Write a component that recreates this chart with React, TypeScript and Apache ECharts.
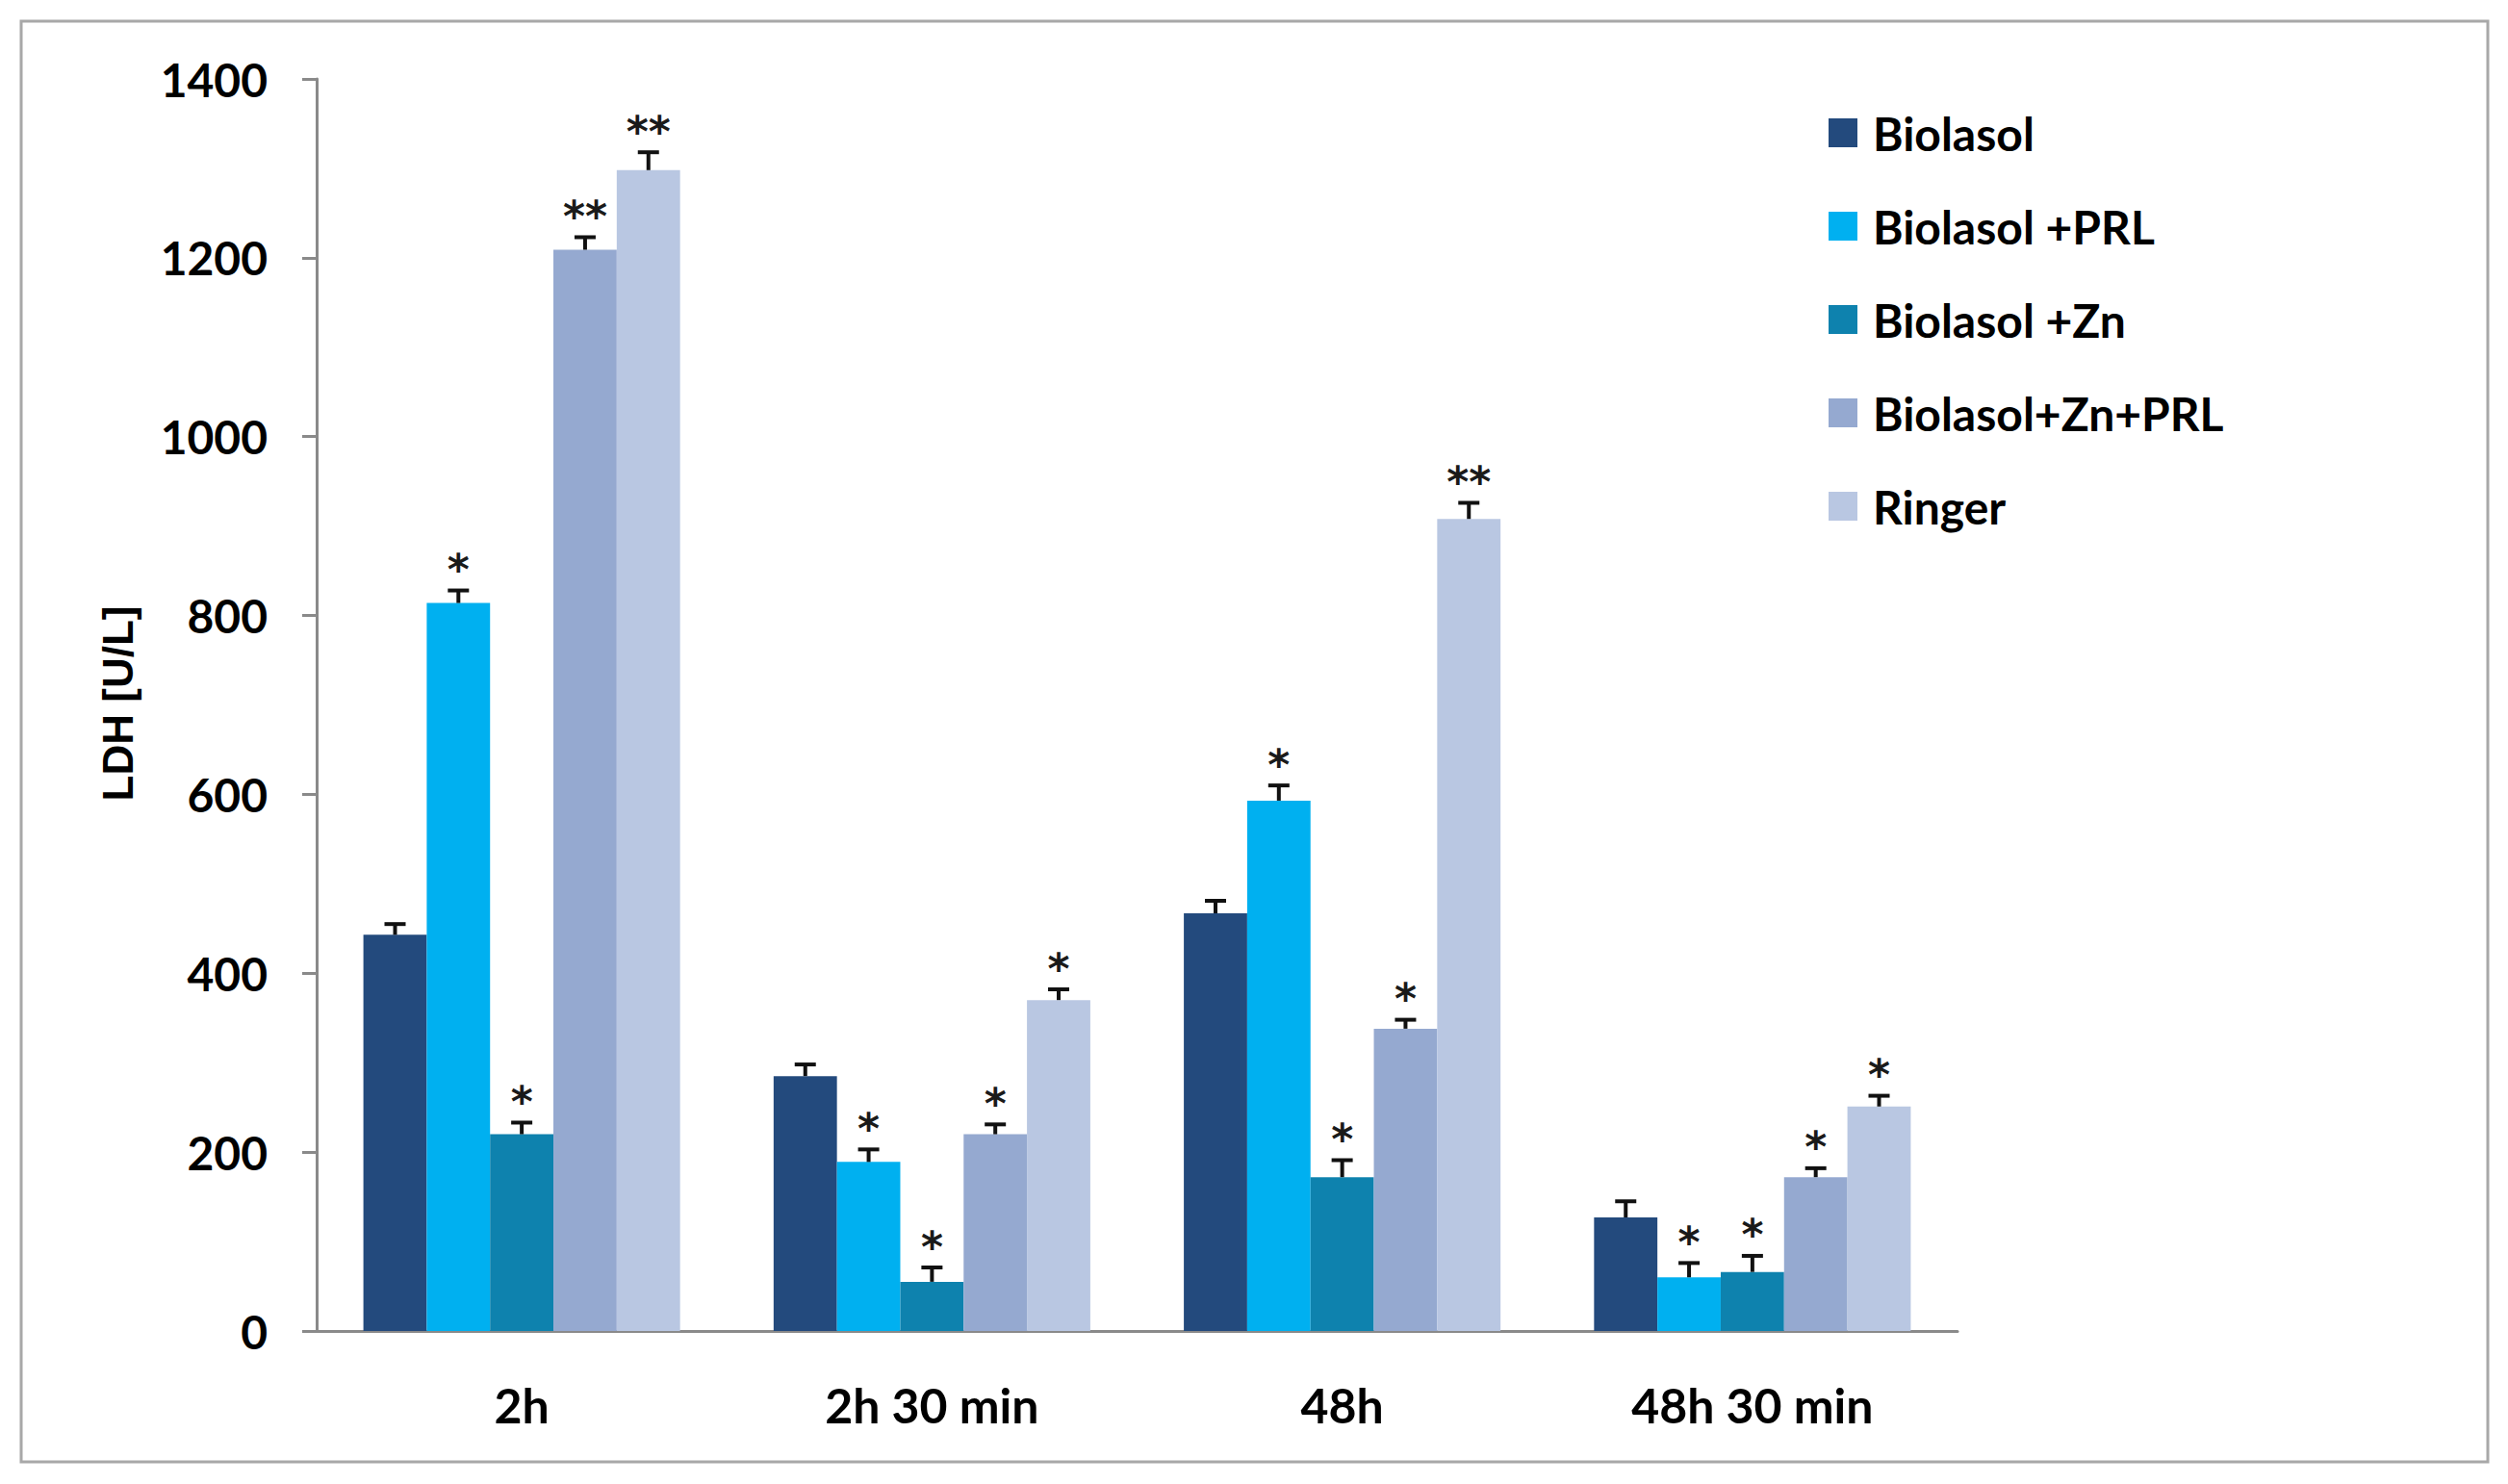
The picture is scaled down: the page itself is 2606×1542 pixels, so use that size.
import React, { useEffect, useRef } from "react";
import * as echarts from "echarts";

const categories = ["2h", "2h 30 min", "48h", "48h 30 min"];
const seriesNames = ["Biolasol", "Biolasol +PRL", "Biolasol +Zn", "Biolasol+Zn+PRL", "Ringer"];
const colors = ["#234a7d", "#00b0f0", "#0e82ae", "#95a9d0", "#b9c7e2"];

const biolasol = [443, 285, 467, 127];
const biolasolPrl = [814, 189, 593, 60];
const biolasolZn = [220, 55, 172, 66];
const biolasolZnPrl = [1209, 220, 338, 172];
const ringer = [1298, 370, 908, 251];

const errBiolasol = [12, 13, 14, 18];
const errPrl = [14, 14, 17, 16];
const errZn = [13, 16, 19, 18];
const errZnPrl = [14, 11, 10, 10];
const errRinger = [20, 12, 18, 12];

const markBiolasol = ["", "", "", ""];
const markPrl = ["*", "*", "*", "*"];
const markZn = ["*", "*", "*", "*"];
const markZnPrl = ["**", "*", "*", "*"];
const markRinger = ["**", "*", "**", "*"];

const yTicks = [0, 200, 400, 600, 800, 1000, 1200, 1400];

const values = [biolasol, biolasolPrl, biolasolZn, biolasolZnPrl, ringer];
const errors = [errBiolasol, errPrl, errZn, errZnPrl, errRinger];
const marks = [markBiolasol, markPrl, markZn, markZnPrl, markRinger];

const GAP = 0.228;

export default function App() {
  const ref = useRef<HTMLDivElement>(null);
  useEffect(() => {
    document.body.style.margin = "0";
    if (!ref.current) return;
    const chart = echarts.init(ref.current, null, { renderer: "svg" });
    const n = seriesNames.length;
    const barSeries = seriesNames.map((name, k) => ({
      name,
      type: "bar",
      data: values[k],
      barGap: "0%",
      barCategoryGap: GAP * 100 + "%",
      itemStyle: { color: colors[k] },
      z: 2,
    }));
    const errSeries = seriesNames.map((name, k) => ({
      name: name + " error",
      type: "custom",
      z: 5,
      data: values[k].map((v, i) => [i, v, errors[k][i]]),
      encode: { x: 0, y: 1 },
      renderItem: (params: any, api: any) => {
        const i = api.value(0);
        const v = api.value(1);
        const e = api.value(2);
        const band = api.size([1, 0])[0];
        const bw = (band * (1 - GAP)) / n;
        const p0 = api.coord([i, v]);
        const p1 = api.coord([i, v + e]);
        const x = p0[0] + (k - (n - 1) / 2) * bw;
        const mark = marks[k][params.dataIndex];
        const children: any[] = [
          { type: "line", shape: { x1: x, y1: p0[1], x2: x, y2: p1[1] }, style: { stroke: "#111", lineWidth: 4 } },
          { type: "line", shape: { x1: x - 11, y1: p1[1], x2: x + 11, y2: p1[1] }, style: { stroke: "#111", lineWidth: 4 } },
        ];
        if (mark) {
          children.push({
            type: "text",
            x: x,
            y: p1[1] - 22,
            style: {
              text: mark,
              fill: "#1a1a1a",
              font: "bold 44px 'DejaVu Sans'",
              align: "center",
              verticalAlign: "middle",
            },
          });
        }
        return { type: "group", children };
      },
    }));
    chart.setOption({
      animation: false,
      backgroundColor: "#ffffff",
      grid: { left: 329, top: 82, width: 1705, height: 1301, containLabel: false },
      legend: {
        data: seriesNames,
        orient: "vertical",
        left: 1895,
        top: 109,
        itemWidth: 30,
        itemHeight: 30,
        itemGap: 49,
        icon: "rect",
        textStyle: { fontFamily: "Lato", fontWeight: "bold", fontSize: 48, color: "#000", lineHeight: 48, padding: [0, 0, 0, 11] },
        selectedMode: false,
      },
      xAxis: {
        type: "category",
        data: categories,
        axisLine: { lineStyle: { color: "#8a8a8a", width: 3 } },
        axisTick: { length: 20, lineStyle: { color: "#8a8a8a", width: 3 } },
        axisLabel: { fontFamily: "Lato", fontWeight: "bold", fontSize: 50, color: "#000", margin: 52 },
      },
      yAxis: {
        type: "value",
        min: yTicks[0],
        max: yTicks[yTicks.length - 1],
        interval: yTicks[1] - yTicks[0],
        splitLine: { show: false },
        axisLine: { show: true, lineStyle: { color: "#8a8a8a", width: 3 } },
        axisTick: { show: true, length: 15, lineStyle: { color: "#8a8a8a", width: 3 } },
        axisLabel: {
          fontFamily: "Lato",
          fontWeight: "bold",
          fontSize: 48,
          color: "#000",
          margin: 51,
          formatter: (v: number) => String(v),
        },
      },
      graphic: [
        {
          type: "rect",
          shape: { x: 22, y: 22, width: 2563, height: 1497 },
          style: { fill: "none", stroke: "#a8a8a8", lineWidth: 3 },
          z: -1,
        },
        {
          type: "text",
          x: 122,
          y: 731,
          rotation: Math.PI / 2,
          style: {
            text: "LDH [U/L]",
            font: "bold 44px 'Liberation Sans'",
            fill: "#000",
            align: "center",
            verticalAlign: "middle",
          },
        },
      ],
      series: [...barSeries, ...errSeries],
    });
    return () => chart.dispose();
  }, []);
  return <div ref={ref} style={{ width: 2606, height: 1542 }} />;
}
